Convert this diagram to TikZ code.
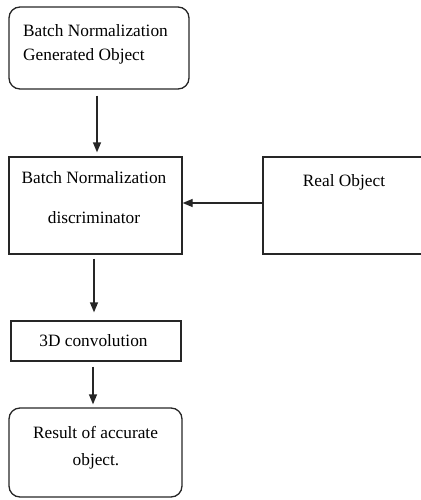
\documentclass[tikz,border=0pt]{standalone}
\usepackage{fontspec}
\setmainfont{Liberation Serif}
\usetikzlibrary{arrows.meta}
\begin{document}
\begin{tikzpicture}[x=1pt,y=-1pt,
  box/.style={draw=black!85, line width=1.3pt, inner sep=0pt, minimum width=#1},
  rbox/.style={box=#1, rounded corners=11pt},
  txt/.style={inner sep=0pt, font=\fontsize{17.3}{20}\selectfont},
  arr/.style={draw=black!85, line width=1.3pt, -{Triangle[length=10pt,width=8pt]}}]
\useasboundingbox (0,0) rectangle (420,500);
\node[rbox=180pt, minimum height=82pt] (b1) at (99,48) {};
\node[box=173pt, minimum height=97pt] (b2) at (95.5,205.5) {};
\node[box=159pt, minimum height=97pt] (b3) at (342.5,205.5) {};
\node[box=170pt, minimum height=40pt] (b4) at (96,341) {};
\node[rbox=173pt, minimum height=89pt] (b5) at (95.5,452.5) {};
% texts
\node[txt, anchor=base west] (t1a) at (23,37) {Batch Normalization};
\node[txt, anchor=base west] (t1b) at (23,61) {Generated Object};
\node[txt, anchor=base] (t2a) at (94,183.3) {Batch Normalization};
\node[txt, anchor=base] (t2b) at (94,223.3) {discriminator};
\node[txt, anchor=base] (t3) at (344,186.7) {Real Object};
\node[txt, anchor=base] (t4) at (93.5,346.7) {3D convolution};
\node[txt, anchor=base] (t5a) at (95.5,438.3) {Result of accurate};
\node[txt, anchor=base] (t5b) at (96,465) {object.};
% connectors
\draw[arr, shorten <=6pt, shorten >=4pt] ([xshift=-2pt]b1.south) -- ([xshift=-2pt]b1.south |- b2.north);
\draw[arr] ([yshift=2.5pt]b3.west) -- ([yshift=2.5pt]b2.east);
\draw[arr, shorten <=4pt, shorten >=8pt] ([xshift=-1.5pt]b2.south) -- ([xshift=-1.5pt]b2.south |- b4.north);
\draw[arr, shorten <=5pt, shorten >=3pt] ([xshift=-3pt]b4.south) -- ([xshift=-3pt]b4.south |- b5.north);
\end{tikzpicture}
\end{document}
